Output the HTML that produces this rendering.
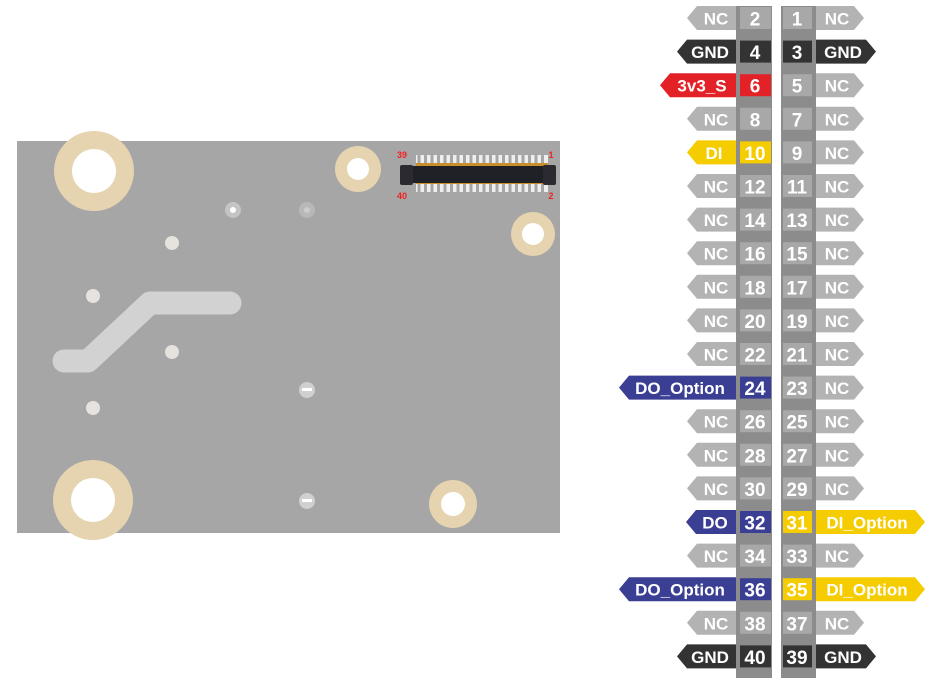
<!DOCTYPE html>
<html><head><meta charset="utf-8"><style>
html,body{margin:0;padding:0;background:#fff;width:930px;height:684px;overflow:hidden}
svg{display:block}
text{font-family:"Liberation Sans",sans-serif;font-weight:bold;fill:#fff;text-anchor:middle;dominant-baseline:central}
.p{font-size:19px}.l{font-size:17px}
</style></head><body>
<svg width="930" height="684" viewBox="0 0 930 684">
<rect x="17" y="141" width="543" height="392" fill="#a6a6a6"/>
<circle cx="94" cy="171" r="40" fill="#e6d3b0"/><circle cx="94" cy="171" r="22" fill="#fff"/>
<circle cx="93" cy="500" r="40" fill="#e6d3b0"/><circle cx="93" cy="500" r="22" fill="#fff"/>
<circle cx="358" cy="169" r="23" fill="#e6d3b0"/><circle cx="358" cy="169" r="11" fill="#fff"/>
<circle cx="533" cy="234" r="22" fill="#e6d3b0"/><circle cx="533" cy="234" r="11" fill="#fff"/>
<circle cx="453" cy="504" r="24" fill="#e6d3b0"/><circle cx="453" cy="504" r="12" fill="#fff"/>
<path d="M64 361 L88 361 L150 303 L230 303" stroke="#d2d2d2" stroke-width="23" stroke-linecap="round" stroke-linejoin="round" fill="none"/>
<g fill="#e6e3df"><circle cx="172" cy="243" r="7"/><circle cx="93" cy="296" r="7"/><circle cx="172" cy="352" r="7"/><circle cx="93" cy="408" r="7"/></g>
<circle cx="233" cy="210" r="8" fill="#c4c4c4"/><circle cx="233" cy="210" r="3" fill="#fff"/>
<circle cx="307" cy="210" r="8" fill="#b8b8b8"/><circle cx="307" cy="210" r="3" fill="#ccc"/>
<circle cx="307" cy="390" r="8" fill="#d2d0ce"/><rect x="302" y="388" width="10" height="3" fill="#fff"/>
<circle cx="307" cy="501" r="8" fill="#d2d0ce"/><rect x="302" y="499" width="10" height="3" fill="#fff"/>
<g fill="#eee">
<rect x="416" y="155" width="132" height="10"/><rect x="416" y="182" width="132" height="10"/>
</g>
<g stroke="#a6a6a6" stroke-width="3">
<path d="M419 155V192 M425.5 155V192 M432 155V192 M438.5 155V192 M445 155V192 M451.5 155V192 M458 155V192 M464.5 155V192 M471 155V192 M477.5 155V192 M484 155V192 M490.5 155V192 M497 155V192 M503.5 155V192 M510 155V192 M516.5 155V192 M523 155V192 M529.5 155V192 M536 155V192 M542.5 155V192"/>
</g>
<rect x="416" y="163" width="132" height="21" fill="#c88f2c"/>
<rect x="401" y="166" width="154" height="17" fill="#202027"/>
<rect x="400" y="165" width="13" height="20" rx="2" fill="#2a2a30"/><rect x="543" y="165" width="13" height="20" rx="2" fill="#2a2a30"/>
<text x="402" y="155" style="fill:#e22;font-size:9px">39</text><text x="551" y="155" style="fill:#e22;font-size:9px">1</text><text x="402" y="196" style="fill:#e22;font-size:9px">40</text><text x="551" y="196" style="fill:#e22;font-size:9px">2</text>
<rect x="736" y="6" width="36" height="672" fill="#8c8c8c"/>
<rect x="781" y="6" width="35" height="672" fill="#8c8c8c"/>
<g transform="translate(0,18)"><polygon points="687,0 697,-12 736,-12 736,12 697,12" fill="#b3b3b3"/><text class="l" x="716" y="1">NC</text><rect x="740" y="-11" width="31" height="22" fill="#a8a8a8"/><text class="p" x="755" y="2">2</text><rect x="783" y="-11" width="29" height="22" fill="#a8a8a8"/><text class="p" x="797" y="2">1</text><polygon points="816,-12 854,-12 864,0 854,12 816,12" fill="#b3b3b3"/><text class="l" x="837" y="1">NC</text></g>
<g transform="translate(0,51.6)"><polygon points="677,0 687,-12 736,-12 736,12 687,12" fill="#333"/><text class="l" x="710" y="1">GND</text><rect x="740" y="-11" width="31" height="22" fill="#333"/><text class="p" x="755" y="2">4</text><rect x="783" y="-11" width="29" height="22" fill="#333"/><text class="p" x="797" y="2">3</text><polygon points="816,-12 866,-12 876,0 866,12 816,12" fill="#333"/><text class="l" x="843" y="1">GND</text></g>
<g transform="translate(0,85.2)"><polygon points="660,0 670,-12 736,-12 736,12 670,12" fill="#e32228"/><text class="l" x="702" y="1">3v3_S</text><rect x="740" y="-11" width="31" height="22" fill="#e32228"/><text class="p" x="755" y="2">6</text><rect x="783" y="-11" width="29" height="22" fill="#a8a8a8"/><text class="p" x="797" y="2">5</text><polygon points="816,-12 854,-12 864,0 854,12 816,12" fill="#b3b3b3"/><text class="l" x="837" y="1">NC</text></g>
<g transform="translate(0,118.8)"><polygon points="687,0 697,-12 736,-12 736,12 697,12" fill="#b3b3b3"/><text class="l" x="716" y="1">NC</text><rect x="740" y="-11" width="31" height="22" fill="#a8a8a8"/><text class="p" x="755" y="2">8</text><rect x="783" y="-11" width="29" height="22" fill="#a8a8a8"/><text class="p" x="797" y="2">7</text><polygon points="816,-12 854,-12 864,0 854,12 816,12" fill="#b3b3b3"/><text class="l" x="837" y="1">NC</text></g>
<g transform="translate(0,152.4)"><polygon points="687,0 697,-12 736,-12 736,12 697,12" fill="#f5cc00"/><text class="l" x="714" y="1">DI</text><rect x="740" y="-11" width="31" height="22" fill="#f5cc00"/><text class="p" x="755" y="2">10</text><rect x="783" y="-11" width="29" height="22" fill="#a8a8a8"/><text class="p" x="797" y="2">9</text><polygon points="816,-12 854,-12 864,0 854,12 816,12" fill="#b3b3b3"/><text class="l" x="837" y="1">NC</text></g>
<g transform="translate(0,186)"><polygon points="687,0 697,-12 736,-12 736,12 697,12" fill="#b3b3b3"/><text class="l" x="716" y="1">NC</text><rect x="740" y="-11" width="31" height="22" fill="#a8a8a8"/><text class="p" x="755" y="2">12</text><rect x="783" y="-11" width="29" height="22" fill="#a8a8a8"/><text class="p" x="797" y="2">11</text><polygon points="816,-12 854,-12 864,0 854,12 816,12" fill="#b3b3b3"/><text class="l" x="837" y="1">NC</text></g>
<g transform="translate(0,219.6)"><polygon points="687,0 697,-12 736,-12 736,12 697,12" fill="#b3b3b3"/><text class="l" x="716" y="1">NC</text><rect x="740" y="-11" width="31" height="22" fill="#a8a8a8"/><text class="p" x="755" y="2">14</text><rect x="783" y="-11" width="29" height="22" fill="#a8a8a8"/><text class="p" x="797" y="2">13</text><polygon points="816,-12 854,-12 864,0 854,12 816,12" fill="#b3b3b3"/><text class="l" x="837" y="1">NC</text></g>
<g transform="translate(0,253.2)"><polygon points="687,0 697,-12 736,-12 736,12 697,12" fill="#b3b3b3"/><text class="l" x="716" y="1">NC</text><rect x="740" y="-11" width="31" height="22" fill="#a8a8a8"/><text class="p" x="755" y="2">16</text><rect x="783" y="-11" width="29" height="22" fill="#a8a8a8"/><text class="p" x="797" y="2">15</text><polygon points="816,-12 854,-12 864,0 854,12 816,12" fill="#b3b3b3"/><text class="l" x="837" y="1">NC</text></g>
<g transform="translate(0,286.8)"><polygon points="687,0 697,-12 736,-12 736,12 697,12" fill="#b3b3b3"/><text class="l" x="716" y="1">NC</text><rect x="740" y="-11" width="31" height="22" fill="#a8a8a8"/><text class="p" x="755" y="2">18</text><rect x="783" y="-11" width="29" height="22" fill="#a8a8a8"/><text class="p" x="797" y="2">17</text><polygon points="816,-12 854,-12 864,0 854,12 816,12" fill="#b3b3b3"/><text class="l" x="837" y="1">NC</text></g>
<g transform="translate(0,320.4)"><polygon points="687,0 697,-12 736,-12 736,12 697,12" fill="#b3b3b3"/><text class="l" x="716" y="1">NC</text><rect x="740" y="-11" width="31" height="22" fill="#a8a8a8"/><text class="p" x="755" y="2">20</text><rect x="783" y="-11" width="29" height="22" fill="#a8a8a8"/><text class="p" x="797" y="2">19</text><polygon points="816,-12 854,-12 864,0 854,12 816,12" fill="#b3b3b3"/><text class="l" x="837" y="1">NC</text></g>
<g transform="translate(0,354)"><polygon points="687,0 697,-12 736,-12 736,12 697,12" fill="#b3b3b3"/><text class="l" x="716" y="1">NC</text><rect x="740" y="-11" width="31" height="22" fill="#a8a8a8"/><text class="p" x="755" y="2">22</text><rect x="783" y="-11" width="29" height="22" fill="#a8a8a8"/><text class="p" x="797" y="2">21</text><polygon points="816,-12 854,-12 864,0 854,12 816,12" fill="#b3b3b3"/><text class="l" x="837" y="1">NC</text></g>
<g transform="translate(0,387.6)"><polygon points="619,0 629,-12 736,-12 736,12 629,12" fill="#3a3f94"/><text class="l" x="680" y="1">DO_Option</text><rect x="740" y="-11" width="31" height="22" fill="#3a3f94"/><text class="p" x="755" y="2">24</text><rect x="783" y="-11" width="29" height="22" fill="#a8a8a8"/><text class="p" x="797" y="2">23</text><polygon points="816,-12 854,-12 864,0 854,12 816,12" fill="#b3b3b3"/><text class="l" x="837" y="1">NC</text></g>
<g transform="translate(0,421.2)"><polygon points="687,0 697,-12 736,-12 736,12 697,12" fill="#b3b3b3"/><text class="l" x="716" y="1">NC</text><rect x="740" y="-11" width="31" height="22" fill="#a8a8a8"/><text class="p" x="755" y="2">26</text><rect x="783" y="-11" width="29" height="22" fill="#a8a8a8"/><text class="p" x="797" y="2">25</text><polygon points="816,-12 854,-12 864,0 854,12 816,12" fill="#b3b3b3"/><text class="l" x="837" y="1">NC</text></g>
<g transform="translate(0,454.8)"><polygon points="687,0 697,-12 736,-12 736,12 697,12" fill="#b3b3b3"/><text class="l" x="716" y="1">NC</text><rect x="740" y="-11" width="31" height="22" fill="#a8a8a8"/><text class="p" x="755" y="2">28</text><rect x="783" y="-11" width="29" height="22" fill="#a8a8a8"/><text class="p" x="797" y="2">27</text><polygon points="816,-12 854,-12 864,0 854,12 816,12" fill="#b3b3b3"/><text class="l" x="837" y="1">NC</text></g>
<g transform="translate(0,488.4)"><polygon points="687,0 697,-12 736,-12 736,12 697,12" fill="#b3b3b3"/><text class="l" x="716" y="1">NC</text><rect x="740" y="-11" width="31" height="22" fill="#a8a8a8"/><text class="p" x="755" y="2">30</text><rect x="783" y="-11" width="29" height="22" fill="#a8a8a8"/><text class="p" x="797" y="2">29</text><polygon points="816,-12 854,-12 864,0 854,12 816,12" fill="#b3b3b3"/><text class="l" x="837" y="1">NC</text></g>
<g transform="translate(0,522)"><polygon points="686,0 696,-12 736,-12 736,12 696,12" fill="#3a3f94"/><text class="l" x="715" y="1">DO</text><rect x="740" y="-11" width="31" height="22" fill="#3a3f94"/><text class="p" x="755" y="2">32</text><rect x="783" y="-11" width="29" height="22" fill="#f5cc00"/><text class="p" x="797" y="2">31</text><polygon points="816,-12 915,-12 925,0 915,12 816,12" fill="#f5cc00"/><text class="l" x="867" y="1">DI_Option</text></g>
<g transform="translate(0,555.6)"><polygon points="687,0 697,-12 736,-12 736,12 697,12" fill="#b3b3b3"/><text class="l" x="716" y="1">NC</text><rect x="740" y="-11" width="31" height="22" fill="#a8a8a8"/><text class="p" x="755" y="2">34</text><rect x="783" y="-11" width="29" height="22" fill="#a8a8a8"/><text class="p" x="797" y="2">33</text><polygon points="816,-12 854,-12 864,0 854,12 816,12" fill="#b3b3b3"/><text class="l" x="837" y="1">NC</text></g>
<g transform="translate(0,589.2)"><polygon points="619,0 629,-12 736,-12 736,12 629,12" fill="#3a3f94"/><text class="l" x="680" y="1">DO_Option</text><rect x="740" y="-11" width="31" height="22" fill="#3a3f94"/><text class="p" x="755" y="2">36</text><rect x="783" y="-11" width="29" height="22" fill="#f5cc00"/><text class="p" x="797" y="2">35</text><polygon points="816,-12 915,-12 925,0 915,12 816,12" fill="#f5cc00"/><text class="l" x="867" y="1">DI_Option</text></g>
<g transform="translate(0,622.8)"><polygon points="687,0 697,-12 736,-12 736,12 697,12" fill="#b3b3b3"/><text class="l" x="716" y="1">NC</text><rect x="740" y="-11" width="31" height="22" fill="#a8a8a8"/><text class="p" x="755" y="2">38</text><rect x="783" y="-11" width="29" height="22" fill="#a8a8a8"/><text class="p" x="797" y="2">37</text><polygon points="816,-12 854,-12 864,0 854,12 816,12" fill="#b3b3b3"/><text class="l" x="837" y="1">NC</text></g>
<g transform="translate(0,656.4)"><polygon points="677,0 687,-12 736,-12 736,12 687,12" fill="#333"/><text class="l" x="710" y="1">GND</text><rect x="740" y="-11" width="31" height="22" fill="#333"/><text class="p" x="755" y="2">40</text><rect x="783" y="-11" width="29" height="22" fill="#333"/><text class="p" x="797" y="2">39</text><polygon points="816,-12 866,-12 876,0 866,12 816,12" fill="#333"/><text class="l" x="843" y="1">GND</text></g>
</svg>
</body></html>
